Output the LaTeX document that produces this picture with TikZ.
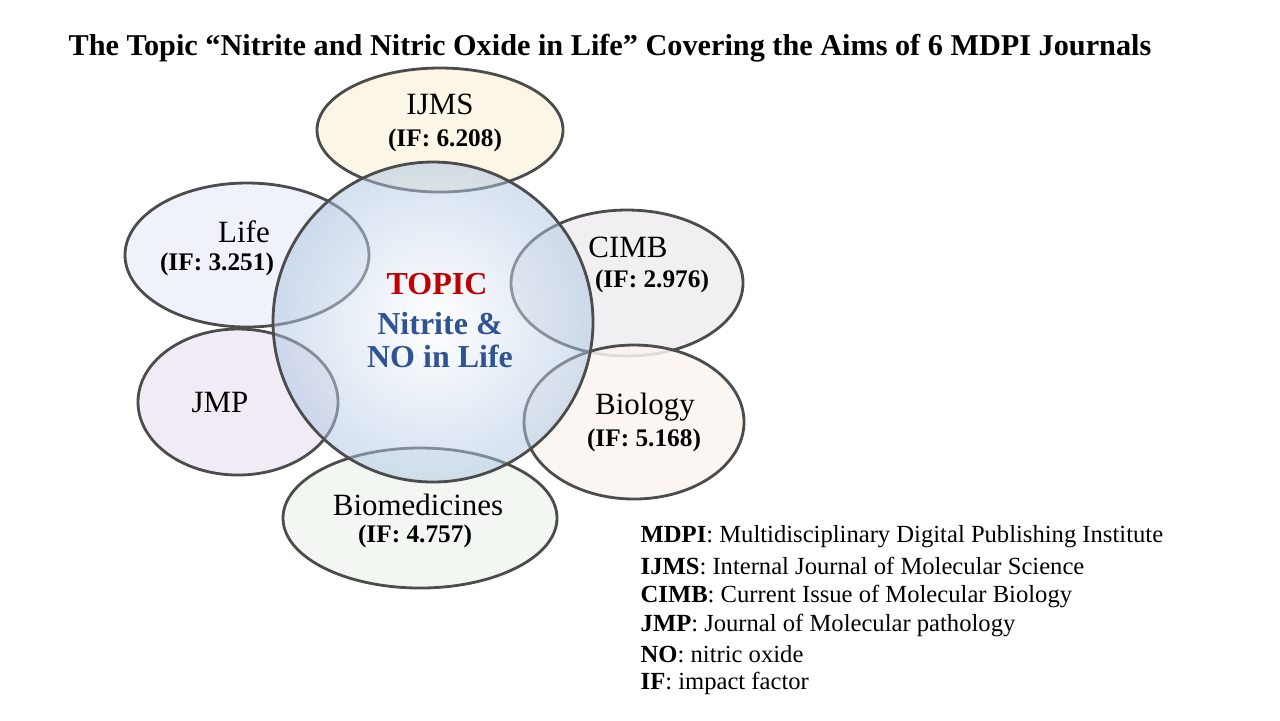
\documentclass[tikz,border=0pt]{standalone}
\usepackage{fontspec}
\setmainfont{Liberation Serif}
\usetikzlibrary{positioning}
\tikzset{
  journal/.style={draw=black!70, thick, fill opacity=0.85, text opacity=1},
  jname/.style={font=\fontsize{8.8}{10}\selectfont},
  jif/.style={font=\bfseries\fontsize{7.2}{8}\selectfont},
  legend/.style={anchor=west, font=\fontsize{7}{8}\selectfont, inner sep=0pt}
}
\begin{document}
\begin{tikzpicture}[x=0.01cm, y=-0.01cm]
    \useasboundingbox (0,0) rectangle (1280,720);
    % title
    \node[anchor=west, inner sep=0pt, font=\bfseries\fontsize{8.6}{10}\selectfont] (title) at (68,48)
        {The Topic ``Nitrite and Nitric Oxide in Life'' Covering the Aims of 6 MDPI Journals};
    % journals
    \filldraw[journal, fill={rgb,255:red,250;green,244;blue,224}] (440,130) ellipse [x radius=123, y radius=62];
    \filldraw[journal, fill={rgb,255:red,236;green,240;blue,250}] (247,255) ellipse [x radius=122, y radius=72];
    \filldraw[journal, fill={rgb,255:red,238;green,236;blue,240}] (627,283) ellipse [x radius=116, y radius=73];
    \filldraw[journal, fill={rgb,255:red,238;green,232;blue,245}] (238,402) ellipse [x radius=100, y radius=73];
    \filldraw[journal, fill={rgb,255:red,250;green,245;blue,240}] (634,422) ellipse [x radius=110, y radius=77];
    \filldraw[journal, fill={rgb,255:red,240;green,246;blue,238}] (420,518) ellipse [x radius=137, y radius=70];
    % topic
    \shade[inner color=white, outer color={rgb,255:red,170;green,195;blue,225}, opacity=0.5]
        (433,322) circle [radius=160];
    \draw[thick, black!70] (433,322) circle [radius=160];
    % labels
    \node[jname] (ijms) at (440,104) {IJMS};
    \node[jif] (ijmsif) at (445,140) {(IF: 6.208)};
    \node[jname] (life) at (244,232) {Life};
    \node[jif] (lifeif) at (217,264) {(IF: 3.251)};
    \node[jname] (cimb) at (628,247) {CIMB};
    \node[jif] (cimbif) at (652,281) {(IF: 2.976)};
    \node[jname] (jmp) at (220,402) {JMP};
    \node[jname] (biology) at (645,407) {Biology};
    \node[jif] (biologyif) at (644,440) {(IF: 5.168)};
    \node[jname] (biomed) at (418,505) {Biomedicines};
    \node[jif] (biomedif) at (415,536) {(IF: 4.757)};
    \node[font=\bfseries\fontsize{9.1}{10}\selectfont, text={rgb,255:red,192;green,0;blue,0}] (topic) at (437,284) {TOPIC};
    \node[font=\bfseries\fontsize{9.1}{9.6}\selectfont, text={rgb,255:red,47;green,84;blue,150}, align=center] (topicname) at (440,340) {Nitrite \&\\NO in Life};
    % legend
    \node[legend] (l1) at (640,537) {\textbf{MDPI}: Multidisciplinary Digital Publishing Institute};
    \node[legend] (l2) at (640,566) {\textbf{IJMS}: Internal Journal of Molecular Science};
    \node[legend] (l3) at (640,596) {\textbf{CIMB}: Current Issue of Molecular Biology};
    \node[legend] (l4) at (640,625) {\textbf{JMP}: Journal of Molecular pathology};
    \node[legend] (l5) at (640,654) {\textbf{NO}: nitric oxide};
    \node[legend] (l6) at (640,683) {\textbf{IF}: impact factor};
\end{tikzpicture}
\end{document}
